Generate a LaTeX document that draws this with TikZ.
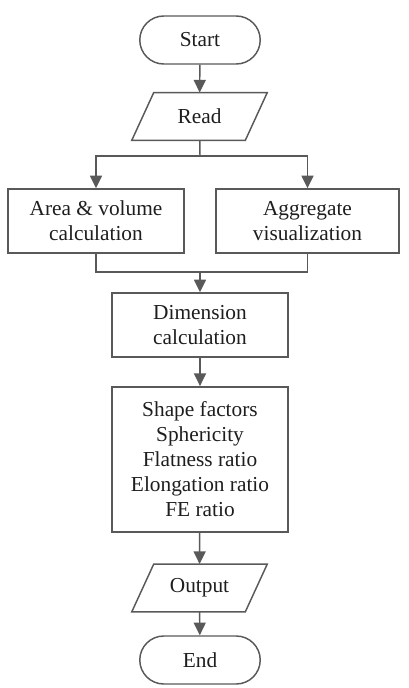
\documentclass[tikz,border=0pt]{standalone}
\usepackage{fontspec}
\setmainfont{Liberation Serif}
\usetikzlibrary{arrows.meta,shapes.misc}
\definecolor{lineGray}{RGB}{89,89,89}
\definecolor{textGray}{RGB}{30,30,30}

\tikzset{
  flowLine/.style={draw=lineGray, line width=1.1pt},
  flowArrow/.style={flowLine, -{Triangle[width=9pt,length=9.5pt]}},
  flowText/.style={text=textGray, font=\rmfamily\fontsize{16}{18.75}\selectfont},
  terminal/.style={rounded rectangle, flowLine, flowText, minimum width=97pt, minimum height=36pt},
  ioBox/.style={rectangle, flowText, minimum width=84.75pt, minimum height=35.5pt,
    append after command={\pgfextra{\draw[flowLine]
      ([xshift=8.25pt]\tikzlastnode.north west) -- ([xshift=8.25pt]\tikzlastnode.north east)
      -- ([xshift=-8.25pt]\tikzlastnode.south east) -- ([xshift=-8.25pt]\tikzlastnode.south west) -- cycle;}}},
  procBox/.style={rectangle, flowLine, flowText, minimum width=132pt, minimum height=48pt, align=center}
}

\begin{document}
\begin{tikzpicture}[x=0.75pt,y=0.75pt,yscale=-1,xscale=1]
\path[use as bounding box] (0,0) rectangle (409,688);

% Terminals and input/output
\node [terminal] (start) at (200,40) {Start};
\node [ioBox] (read) at (199.5,116.5) {Read};
\node [ioBox] (output) at (199.5,588) {Output};
\node [terminal] (end) at (200,660) {End};

% Processes
\node [procBox, minimum width=132pt] (area) at (96,221) {Area \& volume\\calculation};
\node [procBox, minimum width=137pt] (aggr) at (307.5,221) {Aggregate\\visualization};
\node [procBox] (dim) at (200,325) {Dimension\\calculation};
\node [procBox, minimum height=109pt] (shape) at (200,459.5) {Shape factors\\Sphericity\\Flatness ratio\\Elongation ratio\\FE ratio};

% Junctions
\coordinate (split) at (200,156);
\coordinate (merge) at (200,272);

% Connectors
\draw [flowArrow] (start) -- (read);
\draw [flowLine] (read) -- (split);
\draw [flowArrow] (split) -| (area);
\draw [flowArrow] (split) -| (aggr);
\draw [flowLine] (area) |- (merge);
\draw [flowLine] (aggr) |- (merge);
\draw [flowArrow] (merge) -- (dim);
\draw [flowArrow] (dim) -- (shape);
\draw [flowArrow] (shape) -- (output);
\draw [flowArrow] (output) -- (end);

\end{tikzpicture}
\end{document}
